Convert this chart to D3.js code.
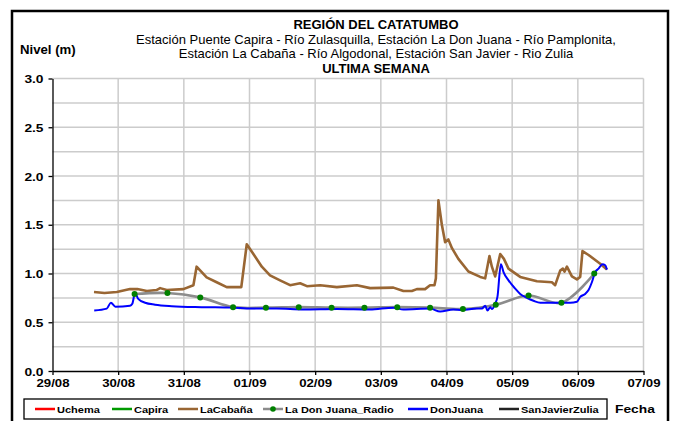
<!DOCTYPE html>
<html>
<head>
<meta charset="utf-8">
<script src="https://cdn.jsdelivr.net/npm/d3@7"></script>
<style>
  html, body { margin: 0; padding: 0; background: #fff; }
  svg { display: block; font-family: "Liberation Sans", Arial, sans-serif; }
</style>
</head>
<body>
<svg id="chart" width="673" height="421"></svg>
<script>
// Niveles horarios (m) – estación La Cabaña, Río Algodonal
const cabanaTime = [
  "29/08 15:10","29/08 19:00","29/08 23:30","30/08 04:20","30/08 07:00","30/08 10:30",
  "30/08 14:00","30/08 15:20","30/08 17:45","30/08 23:50","31/08 03:30","31/08 04:40",
  "31/08 08:20","31/08 12:00","31/08 15:40","31/08 21:00","31/08 23:00","01/09 01:25",
  "01/09 04:30","01/09 07:30","01/09 11:10","01/09 14:50","01/09 18:30","01/09 21:00",
  "02/09 01:50","02/09 07:55","02/09 15:15","02/09 20:05","03/09 04:35","03/09 08:15",
  "03/09 11:20","03/09 13:10","03/09 16:10","03/09 18:00","03/09 19:36","03/09 20:07",
  "03/09 21:03","03/09 22:18","03/09 23:30","04/09 00:40","04/09 02:00","04/09 04:20",
  "04/09 08:00","04/09 12:20","04/09 14:08","04/09 15:42","04/09 16:35","04/09 17:47",
  "04/09 19:38","04/09 20:59","04/09 22:39","05/09 02:56","05/09 09:03","05/09 14:31",
  "05/09 15:43","05/09 17:33","05/09 18:32","05/09 19:08","05/09 20:01","05/09 21:50",
  "05/09 23:40","06/09 00:52","06/09 01:42","06/09 03:55","06/09 08:11","06/09 10:38"
];
const cabanaLevel = [
  0.81,0.80,0.81,0.84,0.84,0.82,
  0.83,0.85,0.83,0.84,0.88,1.07,
  0.96,0.91,0.86,0.86,1.30,1.20,
  1.07,0.98,0.93,0.88,0.90,0.87,
  0.88,0.86,0.88,0.85,0.855,0.82,
  0.82,0.84,0.84,0.88,0.88,0.95,
  1.75,1.50,1.32,1.35,1.26,1.15,
  1.02,0.965,0.95,1.18,1.07,0.97,
  1.20,1.15,1.05,0.965,0.92,0.91,
  0.88,1.03,1.05,1.02,1.07,0.97,
  0.94,0.965,1.23,1.19,1.10,1.04
];

// Niveles (m) – estación La Don Juana, Río Pamplonita
const donJuanaTime = [
  "29/08 15:15","29/08 19:50","29/08 21:20","29/08 23:00","30/08 04:20","30/08 05:10",
  "30/08 06:10","30/08 07:20","30/08 09:50","30/08 13:30","30/08 19:35","31/08 06:30",
  "31/08 17:30","01/09 00:50","01/09 10:00","01/09 19:40","02/09 08:00","02/09 20:00",
  "03/09 04:35","03/09 08:15","03/09 18:00","03/09 21:40","04/09 02:30","04/09 05:40",
  "04/09 11:05","04/09 12:56","04/09 14:08","04/09 15:00","04/09 16:00","04/09 16:35",
  "04/09 17:47","04/09 18:37","04/09 19:52","04/09 20:50","04/09 22:40","05/09 01:06",
  "05/09 02:56","05/09 05:23","05/09 07:48","05/09 10:15","05/09 12:42","05/09 16:21",
  "05/09 21:13","05/09 23:40","06/09 00:52","06/09 02:41","06/09 03:55","06/09 05:08",
  "06/09 06:21","06/09 07:34","06/09 09:01","06/09 10:00","06/09 10:38"
];
const donJuanaLevel = [
  0.62,0.64,0.70,0.66,0.67,0.69,
  0.80,0.74,0.70,0.68,0.665,0.655,
  0.65,0.64,0.64,0.63,0.635,0.63,
  0.65,0.63,0.64,0.61,0.63,0.625,
  0.64,0.64,0.67,0.62,0.655,0.635,
  0.69,0.76,1.095,1.015,0.93,0.845,
  0.79,0.75,0.72,0.70,0.70,0.70,
  0.70,0.71,0.76,0.79,0.83,0.91,
  1.015,1.05,1.095,1.085,1.04
];

// Lecturas por radio (06:00 y 18:00) – La Don Juana
const radioTime = [
  "30/08 06:00","30/08 18:00","31/08 06:00","31/08 18:00","01/09 06:00","01/09 18:00",
  "02/09 06:00","02/09 18:00","03/09 06:00","03/09 18:00","04/09 06:00","04/09 18:00",
  "05/09 06:00","05/09 18:00","06/09 06:00"
];
const radioLevel = [
  0.79,0.80,0.755,0.655,0.65,0.655,
  0.65,0.65,0.655,0.65,0.635,0.68,
  0.775,0.70,1.00
];

const dayLabels = ["29/08","30/08","31/08","01/09","02/09","03/09","04/09","05/09","06/09","07/09"];
const levelTicks = [0, 0.5, 1.0, 1.5, 2.0, 2.5, 3.0];
const legendNames = ["Uchema","Capira","LaCabaña","La Don Juana_Radio","DonJuana","SanJavierZulia"];
const legendColors = ["#ff0000","#009a00","#996633","#8c8c8c","#0000ff","#222222"];

const titleLines = [
  "REGIÓN DEL CATATUMBO",
  "Estación Puente Capira - Río Zulasquilla, Estación La Don Juana - Río Pamplonita,",
  "Estación La Cabaña - Río Algodonal, Estación San Javier - Rio Zulia",
  "ULTIMA SEMANA"
];

const parse = d3.timeParse("%d/%m %H:%M");
const parseDay = d3.timeParse("%d/%m");

const svg = d3.select("#chart");

// outer frame
svg.append("rect")
  .attr("x", 12).attr("y", 11).attr("width", 656).attr("height", 420)
  .attr("fill", "#fff").attr("stroke", "#000").attr("stroke-width", 2.5);

const x = d3.scaleTime()
  .domain([parseDay(dayLabels[0]), parseDay(dayLabels[dayLabels.length - 1])])
  .range([52.5, 643.5]);
const y = d3.scaleLinear().domain([0, 3]).range([371, 78.5]);

// stretched text helper (axis lettering is wide and low)
function stretchedText(sel, tx, ty, str, size, sx, weight, anchor) {
  return sel.append("text")
    .attr("transform", `translate(${tx},${ty}) scale(${sx},1)`)
    .attr("font-size", size)
    .attr("font-weight", weight)
    .attr("text-anchor", anchor)
    .attr("fill", "#000")
    .text(str);
}

// grid
const grid = svg.append("g");
grid.selectAll("line.h")
  .data(d3.range(1, 13).map(i => i * 0.25))
  .join("line")
  .attr("x1", x.range()[0]).attr("x2", x.range()[1])
  .attr("y1", d => y(d)).attr("y2", d => y(d))
  .attr("stroke", "#cccccc").attr("stroke-width", 1.5);
grid.selectAll("line.v")
  .data(dayLabels.slice(1).map(parseDay))
  .join("line")
  .attr("x1", d => x(d)).attr("x2", d => x(d))
  .attr("y1", y(0)).attr("y2", y(3))
  .attr("stroke", "#cccccc").attr("stroke-width", 1.5);

// axes
const yAxis = svg.append("g")
  .attr("transform", `translate(${x.range()[0]},0)`)
  .call(d3.axisLeft(y).tickValues(levelTicks).tickFormat(d3.format(".1f")).tickSize(4).tickSizeOuter(0));
yAxis.select(".domain").attr("stroke", "#000").attr("stroke-width", 1.3);
yAxis.selectAll(".tick line").attr("stroke", "#000").attr("stroke-width", 1.3);
yAxis.selectAll(".tick text")
  .attr("x", 0).attr("dy", null)
  .attr("transform", "translate(-9,4) scale(1.25,1)")
  .attr("font-family", "Liberation Sans, Arial, sans-serif")
  .attr("font-size", 11).attr("font-weight", "bold").attr("fill", "#000");

const xAxis = svg.append("g")
  .attr("transform", `translate(0,${y(0)})`)
  .call(d3.axisBottom(x).tickValues(dayLabels.map(parseDay)).tickFormat(d3.timeFormat("%d/%m")).tickSize(4).tickSizeOuter(0));
xAxis.select(".domain").attr("stroke", "#000").attr("stroke-width", 1.3);
xAxis.selectAll(".tick line").attr("stroke", "#000").attr("stroke-width", 1.3);
xAxis.selectAll(".tick text")
  .attr("y", 0).attr("dy", null)
  .attr("transform", "translate(0,16) scale(1.2,1)")
  .attr("font-family", "Liberation Sans, Arial, sans-serif")
  .attr("font-size", 11).attr("font-weight", "bold").attr("fill", "#000");

// series
const cabana = cabanaTime.map((t, i) => ({ t: parse(t), v: cabanaLevel[i] }));
const donJuana = donJuanaTime.map((t, i) => ({ t: parse(t), v: donJuanaLevel[i] }));
const radio = radioTime.map((t, i) => ({ t: parse(t), v: radioLevel[i] }));

const lineLinear = d3.line().x(d => x(d.t)).y(d => y(d.v));
const lineSmooth = d3.line().x(d => x(d.t)).y(d => y(d.v)).curve(d3.curveMonotoneX);
const lineRadio = d3.line().x(d => x(d.t)).y(d => y(d.v)).curve(d3.curveCatmullRom.alpha(0.5));

svg.append("path").datum(cabana)
  .attr("d", lineLinear).attr("fill", "none")
  .attr("stroke", legendColors[2]).attr("stroke-width", 2.6).attr("stroke-linejoin", "round");

svg.append("path").datum(radio)
  .attr("d", lineRadio).attr("fill", "none")
  .attr("stroke", legendColors[3]).attr("stroke-width", 2.6);

svg.append("path").datum(donJuana)
  .attr("d", lineSmooth).attr("fill", "none")
  .attr("stroke", legendColors[4]).attr("stroke-width", 2).attr("stroke-linejoin", "round");

svg.selectAll("circle.radio").data(radio).join("circle")
  .attr("cx", d => x(d.t)).attr("cy", d => y(d.v)).attr("r", 3)
  .attr("fill", "#008000");

// titles
titleLines.forEach((s, i) => {
  svg.append("text")
    .attr("x", 376).attr("y", 29 + i * 14.6)
    .attr("text-anchor", "middle")
    .attr("font-size", 13)
    .attr("font-weight", (i === 0 || i === 3) ? "bold" : "normal")
    .attr("fill", "#000")
    .text(s);
});
stretchedText(svg, 20, 54, "Nivel (m)", 12, 1.1, "bold", "start");

// legend
svg.append("rect")
  .attr("x", 24).attr("y", 399).attr("width", 583).attr("height", 20)
  .attr("fill", "#fff").attr("stroke", "#000").attr("stroke-width", 1.3);
const legendX = [35, 112, 178, 263, 408, 499];
const lg = svg.append("g");
legendNames.forEach((name, i) => {
  const lx = legendX[i];
  lg.append("line")
    .attr("x1", lx).attr("x2", lx + 20).attr("y1", 409).attr("y2", 409)
    .attr("stroke", legendColors[i]).attr("stroke-width", 2.5);
  if (i === 3) {
    lg.append("circle").attr("cx", lx + 10).attr("cy", 409).attr("r", 2.8).attr("fill", "#008000");
  }
  stretchedText(lg, lx + 22, 413, name, 9.5, 1.16, "bold", "start");
});
stretchedText(svg, 615, 413, "Fecha", 11.5, 1.2, "bold", "start");
</script>
</body>
</html>
